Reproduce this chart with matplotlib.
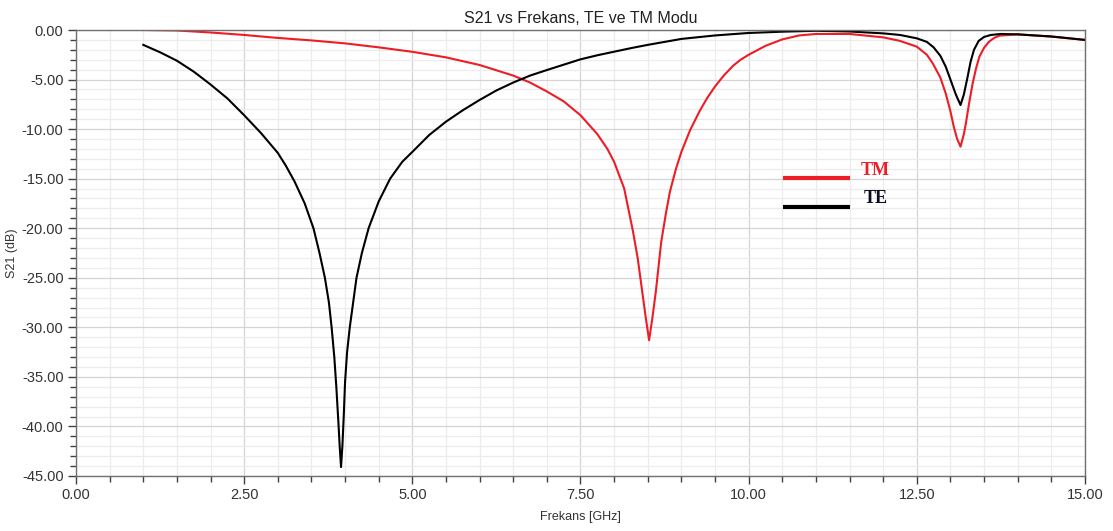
import matplotlib
matplotlib.use("Agg")
import matplotlib.pyplot as plt
from matplotlib.ticker import MultipleLocator, FormatStrFormatter

# TE mode (black)
te_freq = [1.0, 1.25, 1.5, 1.75, 2.0, 2.25, 2.5, 2.75, 3.0, 3.12, 3.25, 3.4, 3.53, 3.62, 3.70,
           3.76, 3.80, 3.84, 3.87, 3.90, 3.92, 3.94, 3.96, 3.98, 4.0, 4.03, 4.07, 4.12,
           4.17, 4.25, 4.35, 4.5, 4.67, 4.85, 5.0, 5.25, 5.5, 5.75, 6.0, 6.25, 6.5, 6.75,
           7.0, 7.25, 7.5, 7.75, 8.0, 8.25, 8.5, 8.75, 9.0, 9.5, 10.0, 10.5, 11.0, 11.5, 12.0,
           12.25, 12.5, 12.65, 12.75, 12.85, 12.93, 13.0, 13.08, 13.15, 13.2, 13.25, 13.3,
           13.35, 13.42, 13.5, 13.6, 13.75, 14.0, 14.5, 15.0]
te_s21 = [-1.5, -2.25, -3.1, -4.2, -5.5, -6.9, -8.6, -10.4, -12.4, -13.7, -15.3, -17.5, -20.0,
          -22.5, -25.0, -27.5, -30.0, -33.0, -36.0, -39.5, -42.0, -44.1, -42.0, -39.0, -35.5,
          -32.5, -30.0, -27.5, -25.0, -22.5, -20.0, -17.3, -15.0, -13.3, -12.3, -10.6, -9.25,
          -8.1, -7.06, -6.1, -5.3, -4.6, -4.04, -3.5, -2.96, -2.55, -2.19, -1.83, -1.5, -1.2,
          -0.9, -0.55, -0.3, -0.17, -0.08, -0.15, -0.34, -0.5, -0.84, -1.2, -1.75, -2.6, -3.7,
          -5.0, -6.5, -7.57, -6.5, -4.9, -3.2, -2.0, -1.1, -0.7, -0.5, -0.4, -0.44, -0.65, -1.0]

# TM mode (red)
tm_freq = [1.0, 1.5, 2.0, 2.5, 3.0, 3.5, 4.0, 4.5, 5.0, 5.5, 6.0, 6.5, 6.75, 7.0, 7.25, 7.5,
           7.75, 7.9, 8.0, 8.15, 8.28, 8.35, 8.42, 8.47, 8.52, 8.57, 8.62, 8.7, 8.77, 8.83,
           8.92, 9.0, 9.13, 9.27, 9.38, 9.5, 9.63, 9.77, 9.88, 10.0, 10.25, 10.5, 10.75, 11.0,
           11.5, 12.0, 12.25, 12.5, 12.65, 12.74, 12.85, 12.93, 13.0, 13.05, 13.1, 13.15, 13.2,
           13.23, 13.28, 13.33, 13.38, 13.43, 13.5, 13.57, 13.65, 13.73, 14.0, 14.5, 15.0]
tm_s21 = [0.0, -0.05, -0.25, -0.5, -0.8, -1.05, -1.35, -1.75, -2.2, -2.76, -3.53, -4.6, -5.3,
          -6.2, -7.2, -8.6, -10.5, -12.0, -13.3, -16.0, -20.3, -23.0, -26.5, -29.0, -31.3,
          -29.0, -26.4, -21.4, -18.5, -16.3, -14.0, -12.3, -10.1, -8.2, -6.9, -5.7, -4.6,
          -3.6, -3.0, -2.5, -1.6, -0.95, -0.55, -0.4, -0.4, -0.74, -1.1, -1.68, -2.5, -3.4,
          -4.8, -6.4, -8.2, -9.76, -11.0, -11.77, -10.5, -9.4, -7.3, -5.4, -3.9, -2.7, -1.8,
          -1.2, -0.8, -0.57, -0.44, -0.67, -1.0]

red = "#ee1c25"
spine_col = "#707070"

fig = plt.figure(figsize=(11.13, 5.31), dpi=100)
ax = fig.add_axes([0.0683, 0.1036, 0.9065, 0.8399])

ax.plot(tm_freq, tm_s21, color=red, lw=1.5)
ax.plot(te_freq, te_s21, color="black", lw=1.5)

ax.set_xlim(0, 15)
ax.set_ylim(-45, 0)
ax.xaxis.set_major_locator(MultipleLocator(2.5))
ax.xaxis.set_minor_locator(MultipleLocator(0.5))
ax.yaxis.set_major_locator(MultipleLocator(5))
ax.yaxis.set_minor_locator(MultipleLocator(1))
ax.xaxis.set_major_formatter(FormatStrFormatter("%.2f"))
ax.yaxis.set_major_formatter(FormatStrFormatter("%.2f"))

ax.grid(which="major", color="#d4d4d4", lw=0.9)
ax.grid(which="minor", color="#ececec", lw=0.9)
ax.set_axisbelow(True)

for s in ax.spines.values():
    s.set_color(spine_col)
    s.set_linewidth(1.0)
ax.tick_params(which="major", length=6, width=1, color="#404040",
               labelsize=10.5, labelcolor="#333333", pad=3)
ax.tick_params(which="minor", length=4, width=1, color="#404040")

ax.set_title("S21 vs Frekans, TE ve TM Modu", fontsize=11.5, family="Liberation Sans",
             color="#222222", pad=5)
ax.set_xlabel("Frekans [GHz]", fontsize=9, family="Liberation Sans", color="#333333",
              labelpad=6)
ax.set_ylabel("S21 (dB)", fontsize=9, family="Liberation Sans", color="#333333", labelpad=3)
for lbl in ax.get_xticklabels() + ax.get_yticklabels():
    lbl.set_family("Liberation Sans")

# hand-drawn legend
ax.plot([0.7007, 0.767], [0.668, 0.668], color=red, lw=3, transform=ax.transAxes,
        solid_capstyle="butt")
ax.plot([0.7007, 0.767], [0.603, 0.603], color="black", lw=3, transform=ax.transAxes,
        solid_capstyle="butt")
ax.text(0.778, 0.686, "TM", color=red, fontsize=13, fontweight="bold",
        family="Liberation Serif", transform=ax.transAxes, va="center")
ax.text(0.781, 0.623, "TE", color="#0a0a20", fontsize=13, fontweight="bold",
        family="Liberation Serif", transform=ax.transAxes, va="center")

fig.savefig("out.png", dpi=100)
